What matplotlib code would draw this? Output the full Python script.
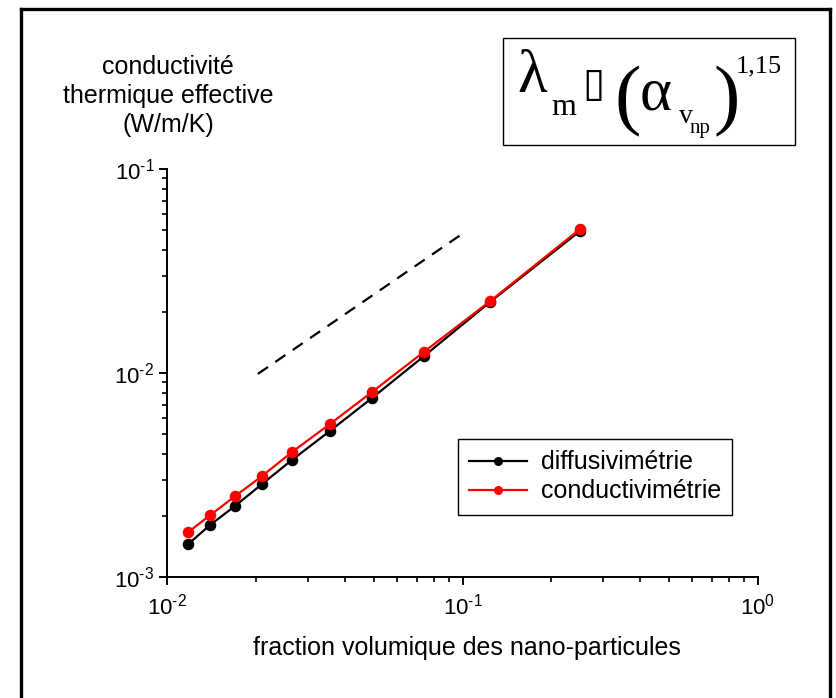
import matplotlib
matplotlib.use('Agg')
import matplotlib.pyplot as plt
from matplotlib.lines import Line2D
from matplotlib.ticker import LogLocator, NullFormatter, FuncFormatter
import numpy as np

plt.rcParams['font.family'] = ['Liberation Sans', 'DejaVu Sans']
plt.rcParams['mathtext.fontset'] = 'custom'
plt.rcParams['mathtext.rm'] = 'Liberation Sans'
plt.rcParams['mathtext.it'] = 'Liberation Sans:italic'

# données
fraction = [0.0118, 0.0140, 0.0170, 0.0210, 0.0265, 0.0356, 0.0494, 0.0741, 0.124, 0.250]
diffusivimetrie = [0.00145, 0.00180, 0.00223, 0.00286, 0.00375, 0.00520, 0.00754, 0.0121, 0.0223, 0.0497]
conductivimetrie = [0.00166, 0.00201, 0.00249, 0.00313, 0.00410, 0.00562, 0.00807, 0.0127, 0.0225, 0.0508]
pente_x = [0.0203, 0.0996]
pente_y = [0.0099, 0.048]

W, H = 836, 698


def fx(x):
    return x / W


def fy(y):
    return 1 - y / H


def puissance(v, pos):
    e = int(round(np.log10(v)))
    return r'$\mathdefault{10^{\text{%d}}}$' % e


fig = plt.figure(figsize=(W / 100, H / 100), dpi=100)
ax = fig.add_axes([fx(167), fy(577), (758 - 167) / W, (577 - 169) / H])

ax.plot(fraction, diffusivimetrie, '-o', color='black', lw=1.6, ms=7.3, label='diffusivimétrie')
ax.plot(fraction, conductivimetrie, '-o', color='red', lw=1.6, ms=7.3, label='conductivimétrie')
ax.plot(pente_x, pente_y, '--', color='black', lw=1.6, dashes=(5.5, 4))

ax.set_xscale('log')
ax.set_yscale('log')
ax.set_xlim(1e-2, 1e0)
ax.set_ylim(1e-3, 1e-1)
ax.xaxis.set_major_locator(LogLocator(base=10, numticks=10))
ax.yaxis.set_major_locator(LogLocator(base=10, numticks=10))
ax.xaxis.set_minor_locator(LogLocator(base=10, subs=range(2, 10), numticks=20))
ax.yaxis.set_minor_locator(LogLocator(base=10, subs=range(2, 10), numticks=20))
ax.xaxis.set_major_formatter(FuncFormatter(puissance))
ax.yaxis.set_major_formatter(FuncFormatter(puissance))
ax.xaxis.set_minor_formatter(NullFormatter())
ax.yaxis.set_minor_formatter(NullFormatter())

for s in ['top', 'right']:
    ax.spines[s].set_visible(False)
for s in ['left', 'bottom']:
    ax.spines[s].set_linewidth(1.4)
ax.tick_params(which='major', direction='out', length=6, width=1.4, labelsize=16, pad=3)
ax.tick_params(which='minor', direction='out', length=3.5, width=1.2)
ax.tick_params(axis='x', which='major', pad=6)

leg = ax.legend(loc='upper left', bbox_to_anchor=(fx(458), fy(439)), bbox_transform=fig.transFigure,
                fontsize=18, frameon=True, fancybox=False, edgecolor='black', framealpha=1,
                handlelength=2.3, markerscale=0.75, borderpad=0.45, labelspacing=0.2,
                handletextpad=0.55, borderaxespad=0)
leg.get_frame().set_linewidth(1.0)

# titres des axes
fig.text(fx(467), fy(648), 'fraction volumique des nano-particules', ha='center', va='center', fontsize=18)
fig.text(fx(168), fy(96), 'conductivité\nthermique effective\n(W/m/K)', ha='center', va='center',
         fontsize=18, linespacing=1.25)

# encadré de la loi de puissance
fig.patches.append(plt.Rectangle((fx(503), fy(145)), (795 - 503) / W, (145 - 38) / H,
                                 transform=fig.transFigure, fill=False, edgecolor='black', lw=1.0))
serif = ['Liberation Serif', 'DejaVu Serif']
fig.text(fx(517), fy(92), 'λ', fontsize=44, family=serif, va='baseline')
fig.text(fx(551), fy(115), 'm', fontsize=23, family=serif, va='baseline')
fig.text(fx(582), fy(96), '▯', fontsize=29, family=['DejaVu Sans'], va='baseline')
fig.text(fx(615), fy(120), '(', fontsize=57, family=serif, va='baseline')
fig.text(fx(640), fy(110), 'α', fontsize=44, family=serif, va='baseline')
fig.text(fx(679), fy(123), 'v', fontsize=20, family=serif, va='baseline')
fig.text(fx(690), fy(133), 'np', fontsize=15, family=serif, va='baseline')
fig.text(fx(714), fy(120), ')', fontsize=57, family=serif, va='baseline')
fig.text(fx(736), fy(72), '1,15', fontsize=19, family=serif, va='baseline')

# cadre extérieur
for xs, ys in [([21, 21], [9, H + 5]), ([21, 830], [9, 9]), ([830, 830], [9, H + 5])]:
    fig.add_artist(Line2D([fx(v) for v in xs], [fy(v) for v in ys], transform=fig.transFigure,
                          color='black', lw=2.4, solid_capstyle='projecting'))

fig.savefig('out.png', dpi=100)
